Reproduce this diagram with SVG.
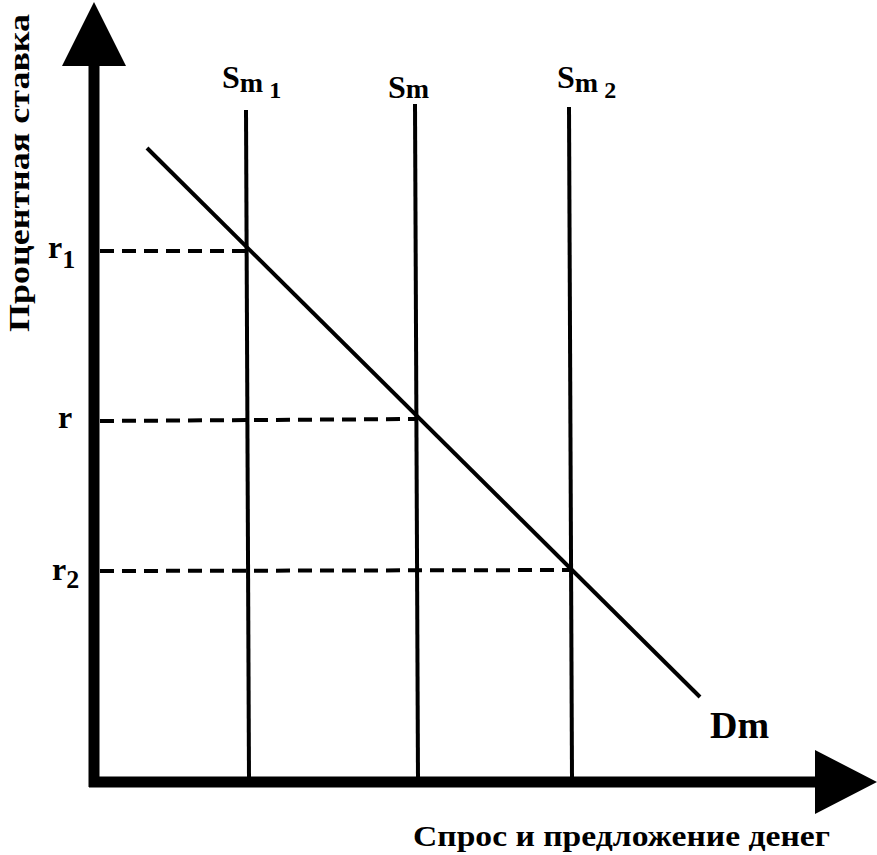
<svg xmlns="http://www.w3.org/2000/svg" width="877" height="855" viewBox="0 0 877 855">
<style>
.t{font-family:"Liberation Serif",serif;font-weight:bold;fill:#000}
.v{stroke:#000;stroke-width:4;fill:none}
.d{stroke:#000;stroke-width:4;stroke-dasharray:14,8;fill:none}
</style>
<rect width="877" height="855" fill="#fff"/>
<g id="axes">
<line x1="94" y1="60" x2="94" y2="787" stroke="#000" stroke-width="11"/>
<polygon points="62,66 126,66 94,2" fill="#000"/>
<line x1="89" y1="782" x2="820" y2="782" stroke="#000" stroke-width="11"/>
<polygon points="815,750 815,814 877,782" fill="#000"/>
</g>
<g id="connectors">
<line class="v" x1="246" y1="110" x2="249" y2="780"/>
<line class="v" x1="415" y1="104" x2="418" y2="780"/>
<line class="v" x1="569" y1="107" x2="572" y2="780"/>
<line class="v" x1="147" y1="148" x2="700" y2="697"/>
<line class="d" x1="100" y1="251" x2="247" y2="251"/>
<line class="d" x1="100" y1="421" x2="416" y2="419"/>
<line class="d" x1="100" y1="571" x2="571" y2="570"/>
</g>
<g id="labels">
<text class="t" x="48" y="258" font-size="32">r<tspan font-size="26" dy="10">1</tspan></text>
<text class="t" x="58" y="428" font-size="32">r</text>
<text class="t" x="52" y="580" font-size="32">r<tspan font-size="26" dy="8">2</tspan></text>
<text class="t" x="222" y="88" font-size="32">S<tspan font-size="28" dy="4">m</tspan><tspan font-size="24" dx="6" dy="6">1</tspan></text>
<text class="t" x="388" y="98" font-size="32">S<tspan font-size="28">m</tspan></text>
<text class="t" x="557" y="88" font-size="32">S<tspan font-size="28" dy="4">m</tspan><tspan font-size="24" dx="6" dy="6">2</tspan></text>
<text class="t" x="710" y="738" font-size="38">Dm</text>
<text class="t" x="413" y="846" font-size="30" textLength="417" lengthAdjust="spacingAndGlyphs">Спрос и предложение денег</text>
<text class="t" font-size="30" transform="translate(29,173) rotate(-90)" text-anchor="middle" textLength="318" lengthAdjust="spacingAndGlyphs">Процентная ставка</text>
</g>
</svg>
